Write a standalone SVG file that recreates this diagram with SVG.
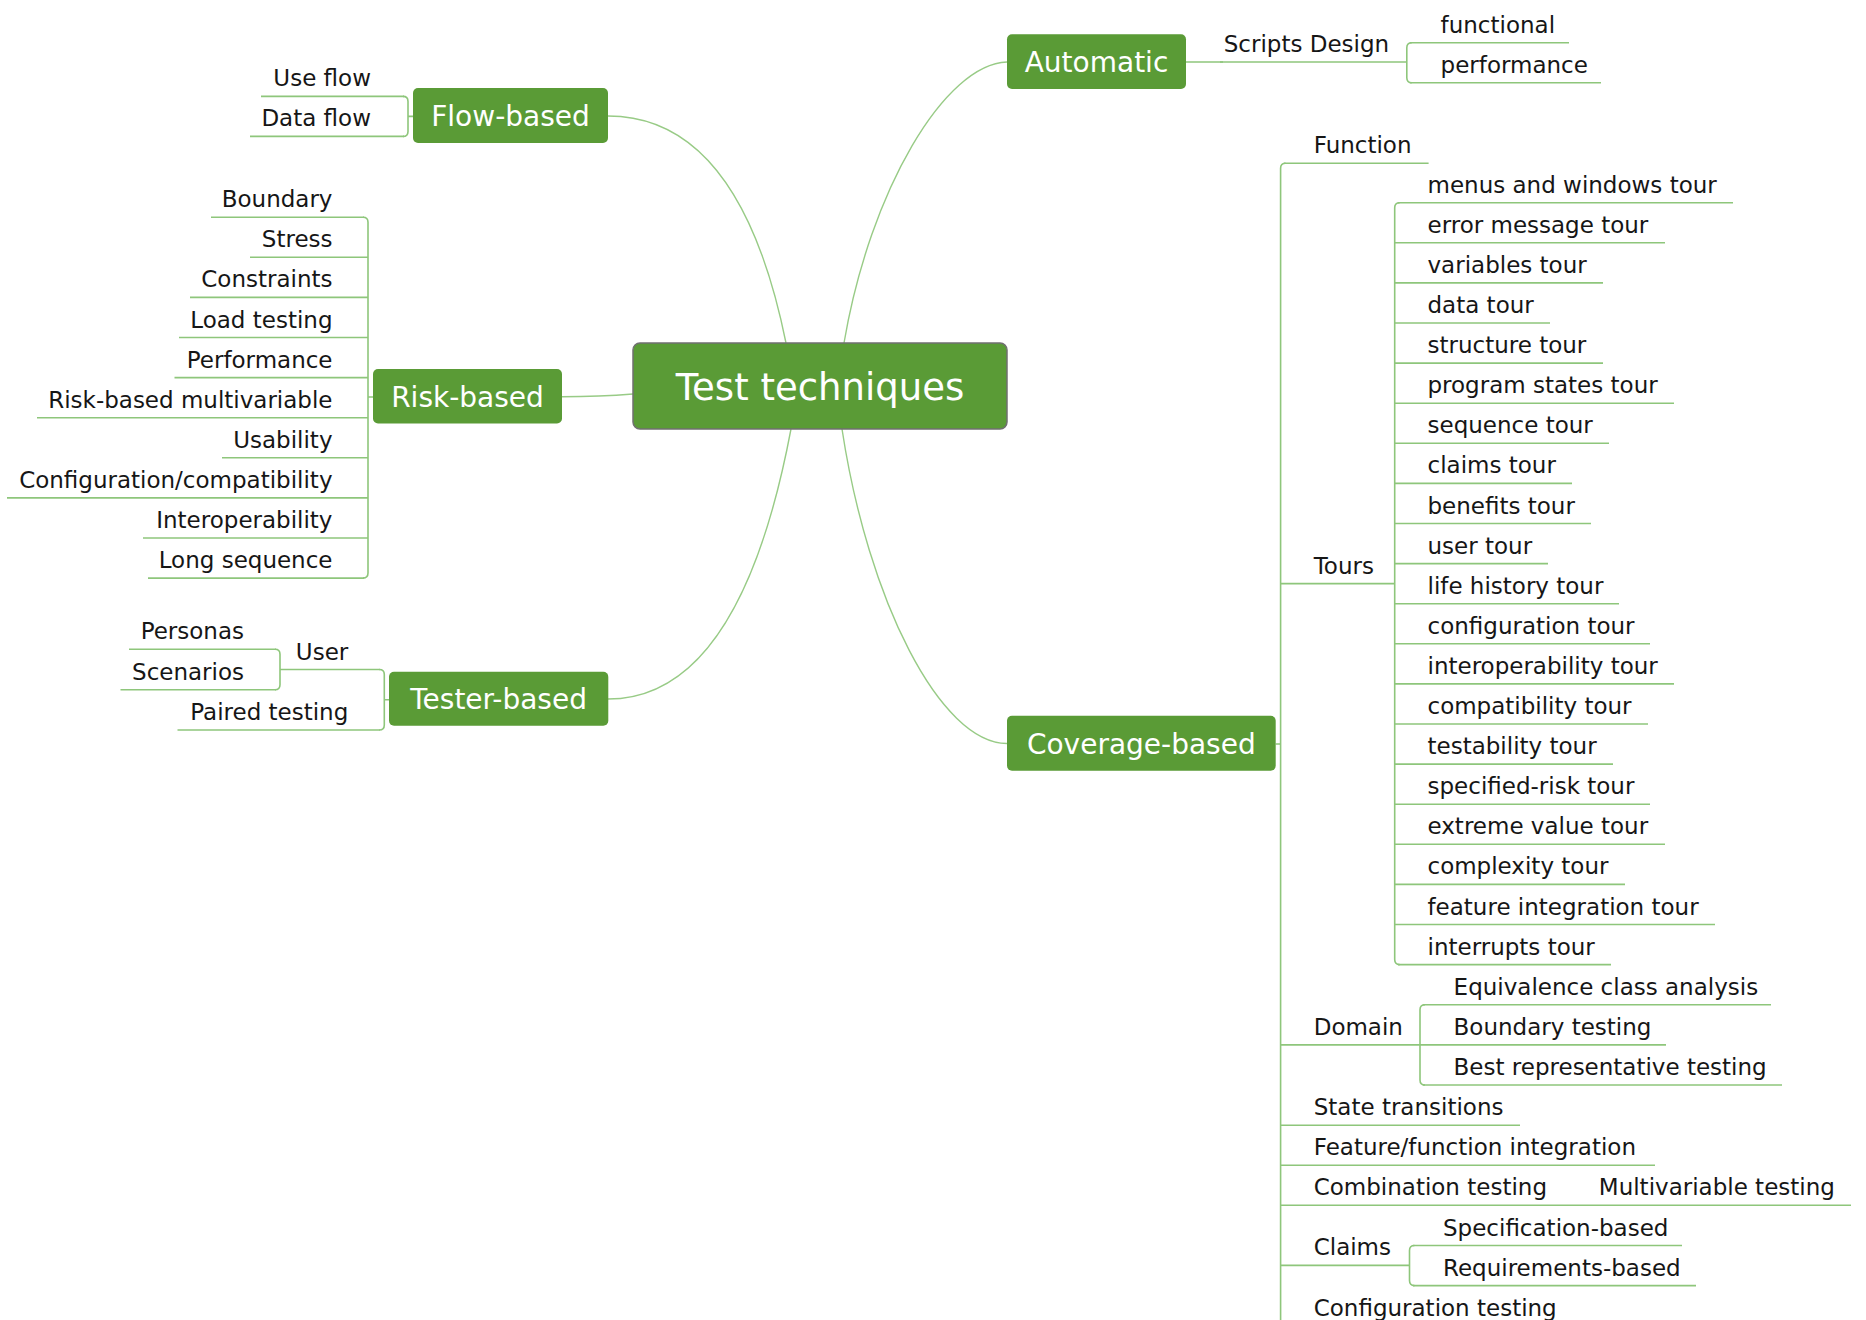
<svg xmlns="http://www.w3.org/2000/svg" width="1866" height="1320" viewBox="0 0 1866 1320">
<style>
.bg{fill:#ffffff}
.nb{fill:#5a9b36}
.nc{fill:#5a9b36;stroke:#707070;stroke-width:1.5}
.nt{font-family:"DejaVu Sans",Verdana,sans-serif;fill:#ffffff;text-anchor:middle}
.t{font-family:"DejaVu Sans",Verdana,sans-serif;font-size:23px;fill:#161616}
.r{text-anchor:end}
.ul{fill:none;stroke:#8ec67b;stroke-width:1.6}
.cv{fill:none;stroke:#98cb86;stroke-width:1.4}
</style>
<rect class="bg" x="0" y="0" width="1866" height="1320"/>

<g id="connectors">
  <!-- main curves -->
  <path class="cv" d="M608,116 Q740,116 786,343"/>
  <path class="cv" d="M844,343 C870,190 945,64 1007,62"/>
  <path class="cv" d="M608,699 Q740,699 791,429"/>
  <path class="cv" d="M842,429 C868,600 940,743 1007,743.5"/>
  <path class="cv" d="M562,396.7 Q600,396.7 633,394"/>
  <!-- Flow-based bracket -->
  <path class="ul" d="M403,96.4 Q408,96.4 408,101.4 V131.4 Q408,136.4 403,136.4 M408,116.4 H413"/>
  <!-- Risk-based bracket -->
  <path class="ul" d="M363,217.2 Q368,217.2 368,222.2 V573.1 Q368,578.1 363,578.1 M368,397 H373"/>
  <!-- Tester-based bracket -->
  <path class="ul" d="M379.3,669.5 Q384.3,669.5 384.3,674.5 V725 Q384.3,730 379.3,730 M384.3,699.7 H389"/>
  <!-- User bracket -->
  <path class="ul" d="M275,649.3 Q280,649.3 280,654.3 V684.7 Q280,689.7 275,689.7"/>
  <!-- Automatic -->
  <path class="ul" d="M1186,62 H1223"/>
  <path class="ul" d="M1411.8,42.7 Q1406.8,42.7 1406.8,47.7 V77.7 Q1406.8,82.7 1411.8,82.7"/>
  <!-- Coverage-based bracket -->
  <path class="ul" d="M1275.7,744 H1280.6 M1285.6,163.3 Q1280.6,163.3 1280.6,168.3 V1330"/>
  <!-- Tours bracket -->
  <path class="ul" d="M1399.7,202.7 Q1394.7,202.7 1394.7,207.7 V959.6 Q1394.7,964.6 1399.7,964.6"/>
  <!-- Domain bracket -->
  <path class="ul" d="M1425,1004.8 Q1420,1004.8 1420,1009.8 V1080 Q1420,1085 1425,1085"/>
  <!-- Claims bracket -->
  <path class="ul" d="M1414.5,1245.5 Q1409.5,1245.5 1409.5,1250.5 V1280.6 Q1409.5,1285.6 1414.5,1285.6"/>
</g>

<g id="center">
  <rect class="nc" x="633" y="343" width="374" height="86" rx="7"/>
  <text class="nt" x="820" y="399.5" font-size="37">Test techniques</text>
</g>

<!-- Flow-based -->
<g id="flow-based">
  <rect class="nb" x="413" y="88" width="195" height="55" rx="5"/>
  <text class="nt" x="510.5" y="126" font-size="28">Flow-based</text>
</g>
<g id="use-flow"><text class="t r" x="371" y="86.4">Use flow</text><path class="ul" d="M261,96.4 H404"/></g>
<g id="data-flow"><text class="t r" x="371" y="126.4">Data flow</text><path class="ul" d="M250,136.4 H404"/></g>

<!-- Risk-based -->
<g id="risk-based">
  <rect class="nb" x="373" y="369" width="189" height="54.5" rx="5"/>
  <text class="nt" x="467.5" y="406.5" font-size="28">Risk-based</text>
</g>
<g id="boundary"><text class="t r" x="332.5" y="207.2">Boundary</text><path class="ul" d="M211,217.2 H364"/></g>
<g id="stress"><text class="t r" x="332.5" y="247.3">Stress</text><path class="ul" d="M250,257.3 H368"/></g>
<g id="constraints"><text class="t r" x="332.5" y="287.4">Constraints</text><path class="ul" d="M190,297.4 H368"/></g>
<g id="load-testing"><text class="t r" x="332.5" y="327.5">Load testing</text><path class="ul" d="M179,337.5 H368"/></g>
<g id="performance"><text class="t r" x="332.5" y="367.6">Performance</text><path class="ul" d="M174.5,377.6 H368"/></g>
<g id="risk-multivariable"><text class="t r" x="332.5" y="407.7">Risk-based multivariable</text><path class="ul" d="M37,417.7 H368"/></g>
<g id="usability"><text class="t r" x="332.5" y="447.8">Usability</text><path class="ul" d="M222,457.8 H368"/></g>
<g id="config-compat"><text class="t r" x="332.5" y="487.9">Configuration/compatibility</text><path class="ul" d="M7,497.9 H368"/></g>
<g id="interoperability"><text class="t r" x="332.5" y="528">Interoperability</text><path class="ul" d="M143,538 H368"/></g>
<g id="long-sequence"><text class="t r" x="332.5" y="568.1">Long sequence</text><path class="ul" d="M148,578.1 H364"/></g>

<!-- Tester-based -->
<g id="tester-based">
  <rect class="nb" x="389" y="671.7" width="219.3" height="54" rx="5"/>
  <text class="nt" x="498.6" y="709" font-size="28">Tester-based</text>
</g>
<g id="user"><text class="t r" x="348.3" y="659.5">User</text><path class="ul" d="M280,669.5 H380"/></g>
<g id="personas"><text class="t r" x="244" y="639.3">Personas</text><path class="ul" d="M129,649.3 H276"/></g>
<g id="scenarios"><text class="t r" x="244" y="679.7">Scenarios</text><path class="ul" d="M120.5,689.7 H276"/></g>
<g id="paired-testing"><text class="t r" x="348.3" y="720">Paired testing</text><path class="ul" d="M177.5,730 H380"/></g>

<!-- Automatic -->
<g id="automatic">
  <rect class="nb" x="1007" y="34.3" width="179" height="54.7" rx="5"/>
  <text class="nt" x="1096.5" y="72" font-size="28">Automatic</text>
</g>
<g id="scripts-design"><text class="t" x="1223.7" y="52">Scripts Design</text><path class="ul" d="M1220,62 H1406.8"/></g>
<g id="functional"><text class="t" x="1440.6" y="32.7">functional</text><path class="ul" d="M1410,42.7 H1569"/></g>
<g id="performance-auto"><text class="t" x="1440.6" y="72.7">performance</text><path class="ul" d="M1410,82.7 H1601"/></g>

<!-- Coverage-based -->
<g id="coverage-based">
  <rect class="nb" x="1007" y="715.7" width="268.7" height="55" rx="5"/>
  <text class="nt" x="1141.3" y="753.7" font-size="28">Coverage-based</text>
</g>
<g id="function"><text class="t" x="1313.7" y="153.3">Function</text><path class="ul" d="M1284,163.3 H1428.6"/></g>
<g id="tours"><text class="t" x="1313.7" y="573.6">Tours</text><path class="ul" d="M1280.6,583.6 H1394.7"/></g>

<g id="tour-menus"><text class="t" x="1427.5" y="192.7">menus and windows tour</text><path class="ul" d="M1398,202.7 H1733"/></g>
<g id="tour-error"><text class="t" x="1427.5" y="232.8">error message tour</text><path class="ul" d="M1394.7,242.8 H1665"/></g>
<g id="tour-variables"><text class="t" x="1427.5" y="272.9">variables tour</text><path class="ul" d="M1394.7,282.9 H1603"/></g>
<g id="tour-data"><text class="t" x="1427.5" y="313">data tour</text><path class="ul" d="M1394.7,323 H1550"/></g>
<g id="tour-structure"><text class="t" x="1427.5" y="353.1">structure tour</text><path class="ul" d="M1394.7,363.1 H1603"/></g>
<g id="tour-program-states"><text class="t" x="1427.5" y="393.2">program states tour</text><path class="ul" d="M1394.7,403.2 H1674"/></g>
<g id="tour-sequence"><text class="t" x="1427.5" y="433.3">sequence tour</text><path class="ul" d="M1394.7,443.3 H1609"/></g>
<g id="tour-claims"><text class="t" x="1427.5" y="473.4">claims tour</text><path class="ul" d="M1394.7,483.4 H1572"/></g>
<g id="tour-benefits"><text class="t" x="1427.5" y="513.5">benefits tour</text><path class="ul" d="M1394.7,523.5 H1591"/></g>
<g id="tour-user"><text class="t" x="1427.5" y="553.6">user tour</text><path class="ul" d="M1394.7,563.6 H1548"/></g>
<g id="tour-life-history"><text class="t" x="1427.5" y="593.7">life history tour</text><path class="ul" d="M1394.7,603.7 H1619"/></g>
<g id="tour-configuration"><text class="t" x="1427.5" y="633.8">configuration tour</text><path class="ul" d="M1394.7,643.8 H1650"/></g>
<g id="tour-interoperability"><text class="t" x="1427.5" y="673.9">interoperability tour</text><path class="ul" d="M1394.7,683.9 H1674"/></g>
<g id="tour-compatibility"><text class="t" x="1427.5" y="714">compatibility tour</text><path class="ul" d="M1394.7,724 H1648"/></g>
<g id="tour-testability"><text class="t" x="1427.5" y="754.1">testability tour</text><path class="ul" d="M1394.7,764.1 H1613"/></g>
<g id="tour-specified-risk"><text class="t" x="1427.5" y="794.2">specified-risk tour</text><path class="ul" d="M1394.7,804.2 H1650"/></g>
<g id="tour-extreme-value"><text class="t" x="1427.5" y="834.3">extreme value tour</text><path class="ul" d="M1394.7,844.3 H1665"/></g>
<g id="tour-complexity"><text class="t" x="1427.5" y="874.4">complexity tour</text><path class="ul" d="M1394.7,884.4 H1625"/></g>
<g id="tour-feature-integration"><text class="t" x="1427.5" y="914.5">feature integration tour</text><path class="ul" d="M1394.7,924.5 H1715"/></g>
<g id="tour-interrupts"><text class="t" x="1427.5" y="954.6">interrupts tour</text><path class="ul" d="M1398,964.6 H1611"/></g>

<g id="domain"><text class="t" x="1313.7" y="1034.9">Domain</text><path class="ul" d="M1280.6,1044.9 H1420"/></g>
<g id="equivalence"><text class="t" x="1453.6" y="994.8">Equivalence class analysis</text><path class="ul" d="M1423,1004.8 H1771"/></g>
<g id="boundary-testing"><text class="t" x="1453.6" y="1034.9">Boundary testing</text><path class="ul" d="M1420,1044.9 H1666"/></g>
<g id="best-representative"><text class="t" x="1453.6" y="1075">Best representative testing</text><path class="ul" d="M1423,1085 H1782"/></g>

<g id="state-transitions"><text class="t" x="1313.7" y="1115.2">State transitions</text><path class="ul" d="M1280.6,1125.2 H1520"/></g>
<g id="feature-function"><text class="t" x="1313.7" y="1155.3">Feature/function integration</text><path class="ul" d="M1280.6,1165.3 H1655"/></g>
<g id="combination-testing"><text class="t" x="1313.7" y="1195.2">Combination testing</text><path class="ul" d="M1280.6,1205.2 H1566"/></g>
<g id="multivariable-testing"><text class="t" x="1598.8" y="1195.2">Multivariable testing</text><path class="ul" d="M1566,1205.2 H1851"/></g>
<g id="claims"><text class="t" x="1313.7" y="1255.4">Claims</text><path class="ul" d="M1280.6,1265.4 H1409.5"/></g>
<g id="specification-based"><text class="t" x="1443" y="1235.5">Specification-based</text><path class="ul" d="M1413,1245.5 H1682"/></g>
<g id="requirements-based"><text class="t" x="1443" y="1275.6">Requirements-based</text><path class="ul" d="M1413,1285.6 H1696"/></g>
<g id="configuration-testing"><text class="t" x="1313.7" y="1315.5">Configuration testing</text><path class="ul" d="M1280.6,1325.5 H1572"/></g>
</svg>
